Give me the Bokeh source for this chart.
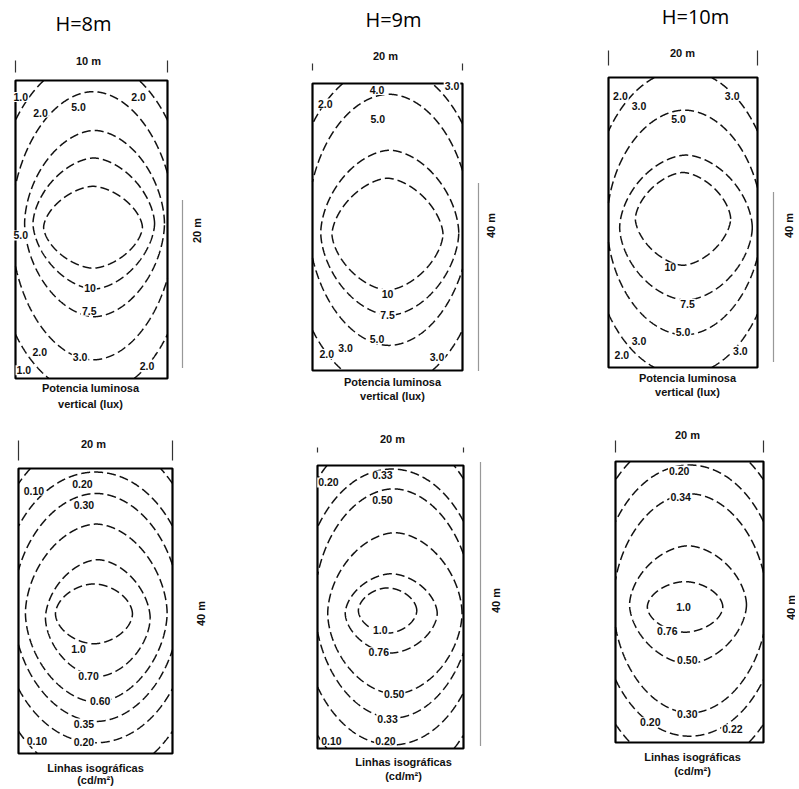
import numpy as np
from bokeh.plotting import figure
from bokeh.layouts import column, row
from bokeh.models import Range1d
from bokeh.core.properties import value
from bokeh.embed import file_html
from bokeh.resources import INLINE

# ---------------- data ----------------
AREA_W = 20.0   # plan width (m)
AREA_H = 40.0   # plan length (m)

titles = ["H=8m", "H=9m", "H=10m"]
width_labels = ["10 m", "20 m", "20 m", "20 m", "20 m", "20 m"]
length_labels = ["20 m", "40 m", "40 m", "40 m", "40 m", "40 m"]
caption_lux = ["Potencia luminosa", "vertical (lux)"]
caption_cd = ["Linhas isográficas", "(cd/m²)"]

# iso-lines of each panel: centre (m), half-width (m), half-length (m), roundness
iso1_cx = [10.2, 10.3, 10.4, 10.2, 10.0]
iso1_cy = [20.3, 20.8, 20.8, 20.5, 20.3]
iso1_a = [6.5, 8.0, 9.2, 10.8, 13.0]
iso1_b = [5.5, 8.8, 12.5, 18.0, 22.5]
iso1_n = [1.65, 1.7, 1.8, 1.9, 2.0]

iso2_cx = [10.0, 10.3, 10.2, 10.0]
iso2_cy = [19.0, 19.2, 21.0, 20.0]
iso2_a = [7.4, 9.2, 10.8, 13.0]
iso2_b = [7.8, 11.5, 17.5, 22.5]
iso2_n = [1.65, 1.75, 1.9, 2.0]

iso3_cx = [10.0, 10.4, 10.2, 10.0]
iso3_cy = [20.5, 19.3, 20.0, 20.0]
iso3_a = [6.4, 8.9, 10.4, 12.5]
iso3_b = [6.4, 10.0, 15.5, 21.0]
iso3_n = [1.65, 1.75, 1.9, 2.0]

iso4_cx = [9.8, 10.3, 10.1, 10.1, 10.0, 10.0]
iso4_cy = [19.6, 19.0, 19.7, 20.5, 20.5, 20.5]
iso4_a = [5.0, 6.8, 9.2, 10.8, 12.5, 14.5]
iso4_b = [4.2, 8.2, 12.5, 16.0, 19.0, 24.0]
iso4_n = [1.8, 1.75, 1.8, 1.9, 2.0, 2.0]

iso5_cx = [9.6, 10.1, 10.6, 10.4, 10.2, 10.0]
iso5_cy = [19.5, 19.1, 19.1, 20.5, 20.0, 20.0]
iso5_a = [4.0, 6.3, 9.2, 10.8, 12.5, 14.5]
iso5_b = [3.2, 5.6, 11.4, 16.2, 19.5, 25.0]
iso5_n = [1.8, 1.75, 1.8, 1.9, 2.0, 2.0]

iso6_cx = [9.4, 9.8, 10.1, 10.0, 10.0]
iso6_cy = [19.3, 19.6, 19.8, 20.2, 20.0]
iso6_a = [5.1, 7.9, 10.4, 12.3, 14.5]
iso6_b = [3.6, 8.4, 15.6, 19.3, 24.0]
iso6_n = [1.8, 1.75, 1.9, 2.0, 2.0]

# value labels written on the iso-lines (m)
lbl1_text = ["1.0", "2.0", "5.0", "2.0", "5.0", "10", "7.5", "2.0", "3.0", "2.0", "1.0"]
lbl1_x = [0.7, 3.3, 8.3, 16.2, 0.7, 9.8, 9.7, 3.2, 8.5, 17.3, 1.1]
lbl1_y = [37.8, 35.7, 36.5, 37.8, 19.2, 12.2, 9.1, 3.5, 2.9, 1.7, 1.1]

lbl2_text = ["2.0", "4.0", "3.0", "5.0", "10", "7.5", "5.0", "2.0", "3.0", "3.0"]
lbl2_x = [1.7, 8.6, 18.6, 8.7, 10.0, 10.0, 8.6, 1.9, 4.4, 16.6]
lbl2_y = [37.2, 39.1, 39.7, 35.1, 10.7, 7.7, 4.4, 2.3, 3.2, 1.9]

lbl3_text = ["2.0", "3.0", "3.0", "5.0", "10", "7.5", "5.0", "3.0", "2.0", "3.0"]
lbl3_x = [1.6, 4.1, 16.6, 9.4, 8.3, 10.6, 10.0, 4.1, 1.8, 17.7]
lbl3_y = [37.5, 36.1, 37.5, 34.3, 13.8, 8.8, 4.9, 3.7, 1.7, 2.3]

lbl4_text = ["0.10", "0.20", "0.30", "1.0", "0.70", "0.60", "0.35", "0.10", "0.20"]
lbl4_x = [2.0, 8.3, 8.5, 7.8, 9.1, 10.6, 8.5, 2.4, 8.5]
lbl4_y = [36.9, 37.8, 34.9, 14.7, 10.9, 7.4, 4.2, 1.8, 1.6]

lbl5_text = ["0.20", "0.33", "0.50", "1.0", "0.76", "0.50", "0.33", "0.10", "0.20"]
lbl5_x = [1.5, 8.9, 8.9, 8.6, 8.4, 10.5, 9.6, 1.9, 9.3]
lbl5_y = [37.6, 38.6, 35.1, 16.7, 13.6, 7.7, 4.2, 1.1, 1.1]

lbl6_text = ["0.20", "0.34", "1.0", "0.76", "0.50", "0.30", "0.20", "0.22"]
lbl6_x = [8.6, 8.8, 9.2, 7.0, 9.7, 9.7, 4.7, 15.8]
lbl6_y = [38.7, 34.9, 19.3, 15.9, 11.7, 4.1, 2.9, 1.9]

ISO = [
    (iso1_cx, iso1_cy, iso1_a, iso1_b, iso1_n),
    (iso2_cx, iso2_cy, iso2_a, iso2_b, iso2_n),
    (iso3_cx, iso3_cy, iso3_a, iso3_b, iso3_n),
    (iso4_cx, iso4_cy, iso4_a, iso4_b, iso4_n),
    (iso5_cx, iso5_cy, iso5_a, iso5_b, iso5_n),
    (iso6_cx, iso6_cy, iso6_a, iso6_b, iso6_n),
]
LBL = [
    (lbl1_text, lbl1_x, lbl1_y), (lbl2_text, lbl2_x, lbl2_y), (lbl3_text, lbl3_x, lbl3_y),
    (lbl4_text, lbl4_x, lbl4_y), (lbl5_text, lbl5_x, lbl5_y), (lbl6_text, lbl6_x, lbl6_y),
]

# ---------------- layout (page pixels) ----------------
ORIGIN = 0
FIG_W = [270, 270, 255]
FIG_H = [412, 375]
RECT_PX = [(15, 167, 80, 378), (312, 462, 83, 370), (608, 757, 77, 367),
           (18, 172, 468, 753), (317, 463, 465, 748), (615, 763, 461, 742)]
TITLE_PX = [(83, 23), (393, 19), (695, 16)]
TOPDIM_PX = [(88, 60), (385, 55), (682, 52), (93, 443), (392, 438), (687, 434)]
SIDEDIM_PX = [(196, 230), (490, 225), (788, 225), (200, 613), (495, 600), (790, 607)]
CAP_PX = [(90, 387, 403), (392, 381, 395), (687, 377, 391),
          (95, 767, 779), (403, 761, 775), (692, 756, 770)]
SIDELINE_PX = [(182, 200, 367), (478, 183, 370), (773, 192, 362),
               (185, 470, 470), (480, 462, 745), (775, 470, 470)]
TICK_PX = [(60, 72), (63, 70), (50, 65), (440, 460), (447, 452), (440, 452)]

FONT = value("Liberation Sans")


def ring_runs(cx, cy, a, b, n):
    t = np.linspace(0, 2 * np.pi, 1441)
    c, s = np.cos(t), np.sin(t)
    x = cx + a * np.sign(c) * np.abs(c) ** (2.0 / n)
    y = cy + b * np.sign(s) * np.abs(s) ** (2.0 / n)
    inside = (x >= 0) & (x <= AREA_W) & (y >= 0) & (y <= AREA_H)
    if inside.all():
        return [(list(x), list(y))]
    k = int(np.argmin(inside))
    x, y, inside = np.roll(x, -k), np.roll(y, -k), np.roll(inside, -k)
    runs, cur = [], None
    for xi, yi, ins in zip(x, y, inside):
        if ins:
            if cur is None:
                cur = ([], [])
            cur[0].append(xi)
            cur[1].append(yi)
        elif cur is not None:
            runs.append(cur)
            cur = None
    if cur is not None:
        runs.append(cur)
    return [r for r in runs if len(r[0]) > 2]


figs = []
for i in range(6):
    r, c = divmod(i, 3)
    fx0 = ORIGIN + sum(FIG_W[:c]); fx1 = fx0 + FIG_W[c]
    fy0 = ORIGIN + sum(FIG_H[:r]); fy1 = fy0 + FIG_H[r]
    rx0, rx1, ry0, ry1 = RECT_PX[i]
    sx = (rx1 - rx0) / AREA_W
    sy = (ry1 - ry0) / AREA_H

    def mx(px):
        return (px - rx0) / sx

    def my(py):
        return (ry1 - py) / sy

    p = figure(width=FIG_W[c], height=FIG_H[r],
               x_range=Range1d(-(rx0 - fx0) / sx, AREA_W + (fx1 - rx1) / sx),
               y_range=Range1d(-(fy1 - ry1) / sy, AREA_H + (ry0 - fy0) / sy),
               toolbar_location=None, output_backend="svg", min_border=0,
               x_axis_location=None, y_axis_location=None, title=None,
               outline_line_color=None, background_fill_color="white",
               border_fill_color="white")
    p.xgrid.visible = False
    p.ygrid.visible = False

    # iso-lines
    xs, ys = [], []
    cxs, cys, aa, bb, nn = ISO[i]
    for k in range(len(cxs)):
        for rx, ry in ring_runs(cxs[k], cys[k], aa[k], bb[k], nn[k]):
            xs.append(rx)
            ys.append(ry)
    p.multi_line(xs=xs, ys=ys, line_color="#111111", line_width=1.5, line_dash="9 4")

    # plan outline
    p.quad(left=[0], right=[AREA_W], bottom=[0], top=[AREA_H],
           fill_color=None, line_color="black", line_width=2.2)

    # iso-line values
    t, lx, ly = LBL[i]
    p.text(x=lx, y=ly, text=t, text_font=FONT, text_font_style="bold",
           text_font_size="10.5px", text_align="center", text_baseline="middle",
           text_color="#111111", background_fill_color="white", padding=1)

    # title
    if r == 0:
        tx, ty = TITLE_PX[c]
        p.text(x=[mx(tx)], y=[my(ty)], text=[titles[c]], text_font=value("Open Sans"),
               text_font_size="20px", text_align="center", text_baseline="middle",
               text_color="black")

    # dimension labels
    dx, dy = TOPDIM_PX[i]
    p.text(x=[mx(dx)], y=[my(dy)], text=[width_labels[i]], text_font=FONT,
           text_font_style="bold", text_font_size="11px", text_align="center",
           text_baseline="middle", text_color="#111111")
    sdx, sdy = SIDEDIM_PX[i]
    p.text(x=[mx(sdx)], y=[my(sdy)], text=[length_labels[i]], text_font=FONT,
           text_font_style="bold", text_font_size="11px", text_align="center",
           text_baseline="middle", angle=np.pi / 2, text_color="#111111")

    # dimension lines
    lx0, ly0, ly1 = SIDELINE_PX[i]
    if ly1 > ly0:
        p.line(x=[mx(lx0), mx(lx0)], y=[my(ly0), my(ly1)], line_color="#333333",
               line_width=1.2, line_dash="1 1")
    ty0, ty1 = TICK_PX[i]
    p.segment(x0=[0, AREA_W], y0=[my(ty0), my(ty0)], x1=[0, AREA_W], y1=[my(ty1), my(ty1)],
              line_color="#333333", line_width=1.2)

    # caption
    cx_, cy1, cy2 = CAP_PX[i]
    cap = caption_lux if r == 0 else caption_cd
    p.text(x=[mx(cx_), mx(cx_)], y=[my(cy1), my(cy2)], text=cap, text_font=FONT,
           text_font_style="bold", text_font_size="11px", text_align="center",
           text_baseline="middle", text_color="#111111")
    figs.append(p)

layout = column(row(*figs[:3]), row(*figs[3:]))
open("out.html", "w").write(file_html(layout, INLINE))
